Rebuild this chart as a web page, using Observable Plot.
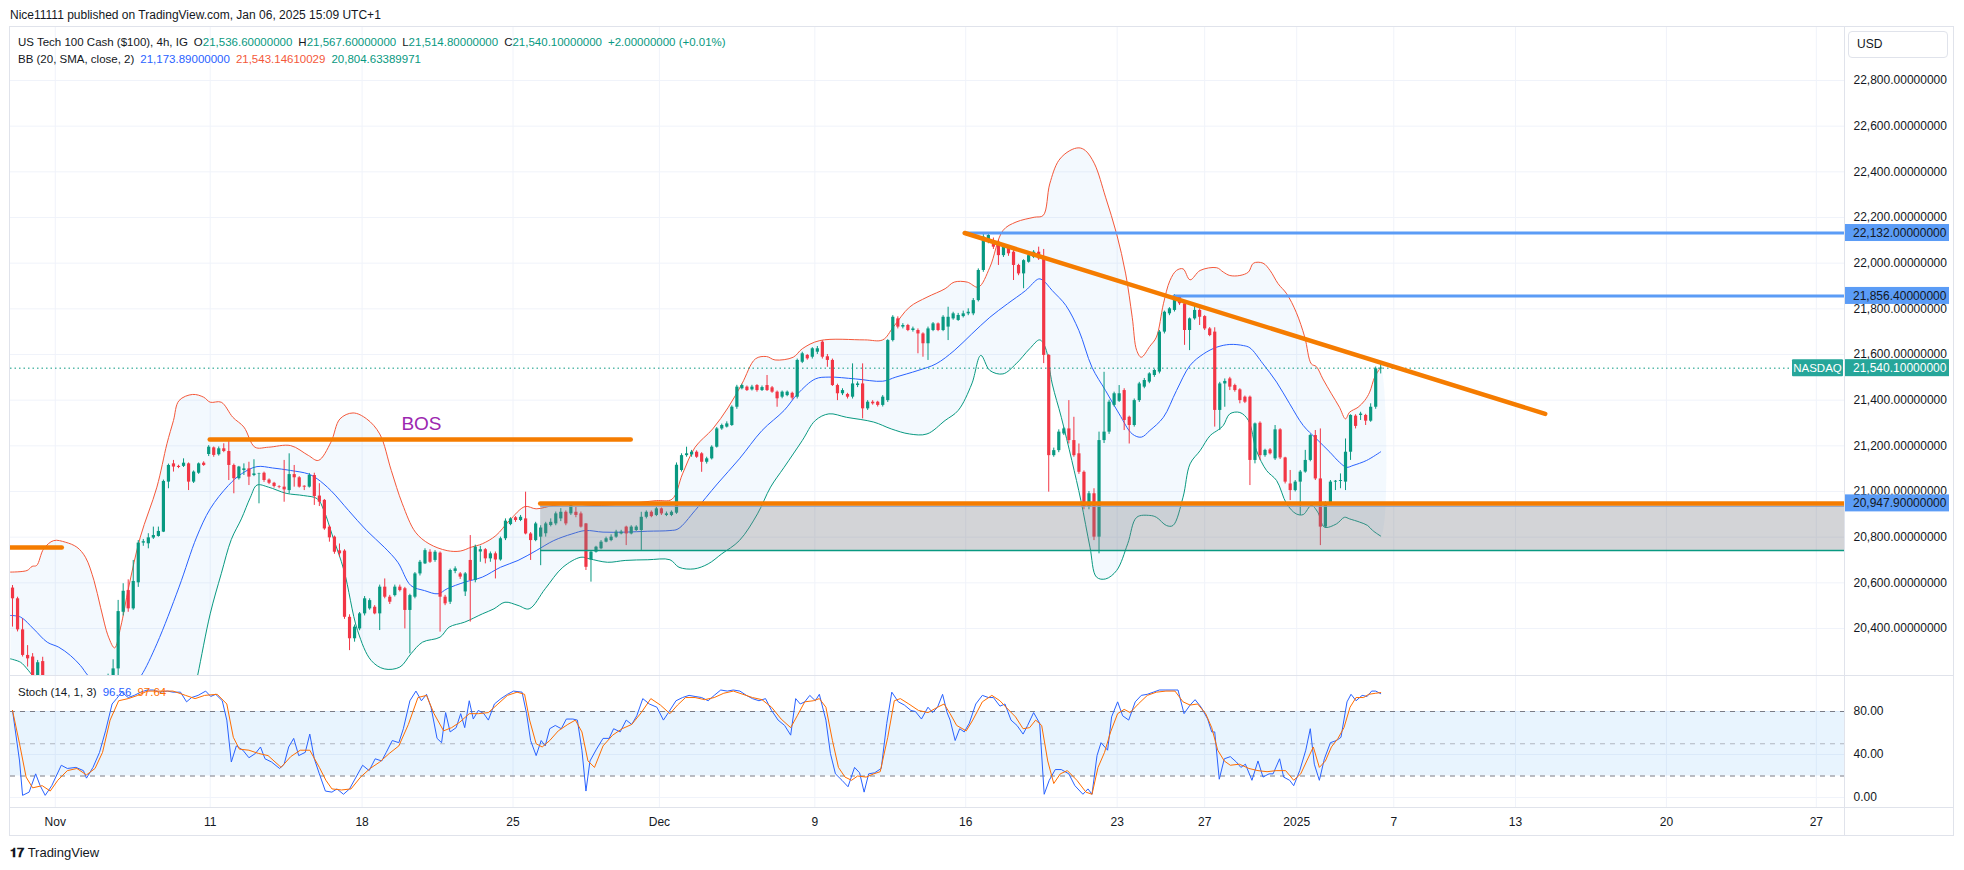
<!DOCTYPE html>
<html><head><meta charset="utf-8">
<script src="https://cdn.jsdelivr.net/npm/d3@7"></script>
<script src="https://cdn.jsdelivr.net/npm/@observablehq/plot@0.6"></script>
<style>
body{margin:0;background:#fff;font-family:"Liberation Sans",Arial,sans-serif;color:#131722;}
#root{position:relative;width:1964px;height:870px;overflow:hidden;background:#fff;}
.abs{position:absolute;white-space:nowrap;font-size:12px;line-height:14px;}
.abs span.gap{margin-left:6px;}
#root svg{position:absolute;left:0;}
</style></head><body><div id="root"></div>
<script>
// ---------- DATA ----------
const opens = [20577,20530,20394,20282,20275,20150,20255,20170,20110,20140,20120,20080,20110,20150,20120,20040,20070,20100,20130,20150,
20190,20223,20471,20566,20486,20600,20774,20771,20796,20803,20822,21041,21121,21110,21110,21121,21041,21080,21124,21162,
21191,21161,21187,21175,21114,21056,21092,21099,21070,21075,21080,21050,21036,21022,21019,21004,21074,21060,21023,21019,
21070,20980,20961,20844,20800,20740,20739,20449,20355,20398,20464,20486,20493,20464,20581,20537,20544,20581,20574,20479,
20537,20639,20683,20734,20698,20730,20537,20515,20650,20639,20560,20698,20610,20735,20745,20705,20727,20700,20793,20855,
20885,20873,20880,20814,20785,20800,20815,20851,20858,20880,20909,20902,20909,20902,20858,20700,20734,20749,20778,20785,
20800,20814,20844,20814,20829,20829,20887,20909,20895,20924,20895,20895,20905,21092,21157,21160,21172,21165,21128,21143,
21194,21274,21282,21289,21369,21450,21457,21445,21464,21442,21464,21454,21435,21413,21420,21430,21413,21566,21596,21588,
21610,21654,21590,21574,21464,21428,21425,21413,21464,21471,21362,21391,21391,21377,21398,21661,21756,21720,21727,21705,
21705,21690,21647,21705,21734,21705,21720,21756,21749,21766,21778,21778,21836,21968,22099,22099,22092,22033,22070,22048,
21990,21953,22004,22026,22048,22026,21596,21157,21179,21252,21274,21223,21165,21084,20931,20990,20800,21223,21260,21377,
21395,21442,21325,21289,21398,21457,21479,21508,21523,21698,21778,21793,21851,21822,21705,21756,21793,21766,21712,21698,
21355,21471,21493,21464,21445,21413,21413,21136,21299,21157,21182,21143,21270,21147,21033,21004,21041,21085,21136,21245,
21055,20844,20946,21041,21044,21041,21172,21330,21333,21333,21308,21369,21536.6];
const highs = [20588,20537,20442,20325,20290,20260,20274,20185,20160,20170,20150,20130,20160,20175,20140,20090,20120,20150,20170,20200,
20263,20523,20596,20613,20698,20785,20790,20815,20844,20844,21050,21120,21136,21115,21143,21125,21090,21125,21130,21201,
21195,21195,21209,21226,21120,21110,21121,21128,21139,21080,21085,21055,21040,21025,21136,21165,21114,21065,21025,21079,
21080,21034,20965,20850,20805,20770,20745,20460,20415,20470,20540,20530,20500,20590,20617,20545,20590,20590,20580,20550,
20645,20698,20749,20745,20741,20735,20545,20660,20670,20645,20645,20807,20765,20760,20750,20735,20735,20800,20880,20885,
20890,20895,20997,20820,20865,20850,20865,20880,20910,20925,20915,20950,20930,20910,20860,20740,20760,20785,20800,20810,
20830,20830,20848,20850,20850,20909,20915,20915,20930,20928,20910,20915,21125,21165,21194,21180,21178,21170,21150,21200,
21280,21295,21305,21375,21465,21470,21462,21465,21468,21462,21508,21460,21440,21440,21440,21435,21580,21610,21600,21630,
21635,21660,21600,21580,21470,21450,21430,21559,21480,21559,21398,21398,21395,21420,21665,21770,21765,21735,21732,21720,
21712,21695,21720,21740,21738,21770,21807,21785,21780,21790,21800,21845,21975,22132,22132,22110,22100,22080,22075,22055,
21995,22015,22040,22055,22070,22060,21600,21190,21270,21280,21398,21325,21208,21090,21000,21012,21260,21522,21400,21435,
21464,21450,21330,21405,21478,21495,21520,21535,21705,21790,21805,21862,21858,21825,21760,21822,21800,21770,21718,21717,
21478,21493,21500,21470,21450,21418,21418,21300,21305,21185,21188,21289,21275,21150,21092,21048,21092,21180,21250,21267,
21274,20955,21048,21048,21077,21230,21336,21336,21347,21338,21384,21545,21567.6];
const lows = [20406,20385,20275,20231,20120,20130,20140,20090,20080,20100,20060,20050,20090,20100,20020,20010,20050,20080,20110,20140,
20180,20190,20455,20471,20480,20580,20760,20749,20790,20800,20820,21012,21085,21100,21105,21004,21035,21075,21110,21153,
21150,21155,21170,21048,20990,21050,21070,21026,21065,20946,21040,21030,21015,21012,20953,20990,21019,21015,21004,21015,
20939,20934,20830,20778,20725,20712,20440,20303,20340,20390,20455,20480,20460,20391,20530,20505,20538,20560,20398,20289,
20530,20630,20680,20685,20690,20384,20500,20505,20640,20615,20540,20428,20600,20690,20683,20690,20617,20695,20785,20850,
20865,20868,20810,20698,20780,20675,20800,20845,20850,20868,20850,20895,20885,20840,20654,20603,20730,20745,20775,20780,
20795,20810,20763,20810,20825,20742,20880,20885,20890,20895,20890,20890,20900,21085,21150,21150,21145,21084,21120,21138,
21190,21268,21278,21285,21360,21445,21438,21440,21435,21438,21438,21430,21369,21406,21415,21400,21405,21560,21575,21580,
21600,21580,21544,21460,21398,21420,21405,21405,21455,21318,21355,21378,21370,21370,21390,21655,21712,21712,21700,21698,
21603,21588,21574,21700,21700,21700,21661,21750,21745,21760,21770,21770,21830,21960,22085,22060,21990,22025,22030,21924,
21945,21888,22000,22020,22012,21560,20997,21150,21170,21245,21208,21150,21075,20920,20920,20785,20727,21210,21250,21370,
21390,21267,21208,21282,21390,21450,21472,21500,21515,21690,21770,21786,21815,21640,21617,21750,21727,21705,21678,21282,
21267,21369,21442,21435,21384,21385,21026,21121,21136,21150,21160,21136,21140,21033,20960,20998,20895,21080,21130,21048,
20763,20838,20940,21004,21012,21004,21136,21274,21311,21289,21303,21360,21514.8];
const closes = [20530,20394,20282,20267,20150,20250,20170,20110,20140,20120,20080,20110,20150,20120,20040,20070,20100,20130,20150,20190,
20223,20474,20563,20486,20606,20774,20780,20797,20807,20825,21044,21114,21107,21105,21124,21041,21085,21121,21114,21194,
21158,21187,21175,21114,21056,21107,21099,21063,21077,21077,21048,21036,21022,21019,21007,21074,21060,21019,21019,21070,
20978,20953,20836,20797,20734,20727,20449,20355,20406,20464,20530,20522,20464,20581,20537,20515,20581,20566,20479,20544,
20639,20690,20741,20690,20734,20537,20508,20654,20661,20625,20639,20610,20756,20745,20705,20727,20700,20793,20870,20880,
20873,20887,20814,20785,20858,20840,20858,20865,20902,20909,20858,20939,20895,20844,20668,20734,20756,20778,20793,20800,
20822,20822,20814,20844,20844,20887,20909,20890,20924,20902,20902,20909,21115,21157,21165,21172,21150,21128,21143,21194,
21274,21289,21296,21369,21457,21464,21442,21457,21442,21455,21442,21435,21406,21435,21435,21409,21574,21603,21581,21625,
21625,21588,21574,21464,21428,21442,21413,21471,21471,21362,21391,21384,21377,21413,21661,21763,21720,21727,21705,21712,
21690,21647,21712,21734,21705,21763,21763,21778,21771,21778,21785,21836,21968,22114,22121,22070,22033,22070,22041,21990,
21953,22011,22033,22048,22019,21596,21157,21179,21260,21274,21223,21157,21084,20931,20990,20800,21223,21260,21391,21428,
21428,21311,21289,21398,21471,21486,21515,21530,21698,21785,21800,21858,21822,21705,21756,21793,21763,21712,21683,21355,
21471,21482,21457,21442,21398,21391,21136,21296,21157,21180,21165,21270,21147,21041,21004,21041,21085,21136,21245,21055,
20844,20946,21041,21045,21048,21172,21333,21285,21339,21308,21369,21537,21540.1];

// Bollinger Bands (20, SMA, close, 2): [bar, price]
const bbUpper = [[-0.4,20647],[2.9,20654],[3.9,20672],[4.8,20676],[6.2,20749],[8.2,20785],[10.5,20778],[12.8,20756],[14.5,20712],[16.2,20610],[17.5,20493],[19.1,20362],[20.3,20315],[21.5,20406],[23.1,20581],[25.4,20800],[28.7,21019],[30.7,21209],[32,21311],[33.1,21398],[35.8,21425],[38,21413],[39.3,21391],[41.5,21391],[43.8,21325],[46,21282],[48.2,21194],[50.9,21194],[55.3,21201],[58.8,21158],[60.8,21136],[63.3,21216],[65.1,21318],[67.7,21344],[70.4,21318],[73,21252],[75.3,21092],[77.5,20946],[80.1,20822],[82.8,20771],[86.4,20741],[89,20739],[91.2,20756],[93.4,20771],[96.1,20807],[98.8,20873],[101.9,20934],[104.1,20924],[107.6,20939],[111.2,20946],[115.6,20939],[121.8,20946],[128,20960],[131.1,20966],[133.2,21077],[135.7,21194],[139.2,21274],[142.3,21369],[145,21471],[147.7,21581],[149.9,21591],[151.6,21576],[155.2,21588],[157,21625],[160.5,21661],[169.4,21664],[173,21664],[175.1,21720],[178.3,21807],[181.8,21851],[185.4,21888],[187.2,21917],[189.8,21917],[192,21895],[194.3,21982],[196.9,22143],[199.5,22180],[203.1,22201],[204.9,22209],[206.2,22347],[208,22450],[210.2,22493],[212,22505],[213.3,22493],[215.1,22435],[217.3,22289],[219.5,22128],[221.3,21953],[222.6,21763],[223.5,21617],[224.4,21588],[226.1,21636],[227.4,21676],[228.8,21822],[230.1,21924],[231.4,21968],[232.7,21975],[234.1,21927],[236.1,21968],[239.4,21980],[240.7,21961],[242,21946],[244,21946],[245.7,21961],[246.7,22000],[248.6,22000],[250,21968],[251.6,21910],[253.3,21866],[255.2,21785],[256.9,21676],[258.2,21559],[259.2,21547],[260.5,21493],[262.2,21428],[263.8,21369],[265,21318],[265.8,21347],[267.5,21369],[268.8,21398],[269.8,21435],[270.8,21501],[272,21543.1]];
const bbBasis = [[-0.4,20457],[1.6,20450],[4.2,20398],[6.9,20340],[9.2,20318],[11.5,20282],[13.5,20238],[15,20194],[18,20130],[21,20110],[24,20150],[25.6,20194],[28.7,20333],[33.1,20581],[36.6,20800],[39.3,20924],[42.9,21026],[45.5,21077],[48.6,21109],[51.7,21103],[55.3,21092],[58.8,21077],[60.6,21055],[63.3,21004],[66.8,20917],[70.4,20829],[73.9,20756],[76.6,20690],[79.2,20588],[81.9,20566],[84.6,20552],[86.4,20574],[89.9,20603],[93.4,20625],[97,20668],[100.5,20698],[104.1,20741],[107.6,20785],[111.2,20814],[113.9,20829],[117.4,20822],[121.8,20822],[126.3,20826],[130.7,20829],[132.3,20836],[135.7,20917],[140.1,21033],[144.5,21143],[149,21267],[153.4,21355],[156.1,21428],[159.6,21493],[162.3,21501],[167.6,21493],[173,21483],[175.6,21501],[180,21530],[183.6,21559],[187.2,21617],[190.7,21690],[194.3,21763],[197.8,21822],[201.4,21880],[204,21931],[204.9,21924],[206.7,21880],[209.4,21815],[212,21705],[214.6,21544],[217.3,21442],[220,21340],[222.6,21252],[224.4,21238],[226.1,21267],[228.8,21325],[231.4,21442],[234.1,21552],[236.8,21603],[239.4,21632],[242,21644],[244.7,21639],[246,21629],[248.6,21559],[251.3,21479],[253.9,21384],[256.6,21289],[259.2,21231],[261.9,21172],[263.8,21128],[265.2,21106],[266.5,21114],[269.2,21136],[272,21173.9]];
const bbLower = [[-0.4,20267],[1.6,20252],[2.9,20223],[4.2,20187],[8,20080],[14,19960],[20,19880],[28,19850],[33,19900],[35.5,20060],[36.8,20194],[39.3,20464],[41.5,20640],[43.5,20790],[45.5,20880],[47.3,20975],[48.6,21028],[50.9,21019],[54.4,20992],[57.9,20982],[60.6,20968],[61.9,20917],[63.7,20800],[65.9,20654],[68.6,20391],[71.3,20260],[73.9,20223],[77,20231],[79.2,20289],[81.5,20340],[85,20362],[86.8,20406],[89.9,20428],[93.4,20464],[95.7,20486],[97.9,20515],[100.5,20501],[102.7,20486],[105.9,20574],[109.4,20668],[113,20712],[114.7,20705],[118.3,20690],[121.8,20698],[126.3,20701],[130.7,20701],[132.5,20668],[135.5,20661],[138.3,20683],[141,20727],[144.5,20785],[148.1,20902],[150.7,21019],[153.4,21106],[157,21223],[159.6,21311],[162.3,21340],[165.8,21325],[171.2,21304],[174.7,21274],[178.3,21252],[181.8,21252],[185.4,21311],[188,21355],[190.7,21471],[192.5,21596],[194.3,21530],[196.9,21515],[199.5,21559],[202.2,21625],[204.2,21664],[205.3,21632],[206.7,21471],[208.5,21325],[210.6,21135],[212.4,20960],[214.2,20756],[215.5,20625],[217.3,20617],[219.5,20654],[221.7,20771],[223.5,20887],[226.1,20895],[227.4,20887],[229.4,20851],[230.7,20851],[232.7,20975],[234.1,21121],[236.1,21179],[238.1,21245],[239.7,21270],[240.7,21289],[242,21340],[244,21346],[245.7,21311],[247.3,21179],[249.3,21092],[251.3,21048],[253.3,20946],[255.2,20902],[256.6,20899],[258.2,20939],[259.5,20909],[260.8,20844],[263.2,20858],[264.8,20887],[265.8,20880],[267.8,20866],[269.4,20851],[270.4,20829],[272,20804.6]];

// Stochastic (14, 1, 3): [bar, value]
const stochK = [[0,81],[1.4,34],[2,2],[3.3,5],[4.6,22],[5.5,11],[6.5,2],[7.8,11],[9.7,30],[10.9,27],[12.6,28],[14.1,25],[14.7,18],[16,28],[17.3,42],[18.5,62],[19.8,87],[20.7,92],[21.7,98],[23,93],[24.2,95],[25.5,98],[26.8,100],[28,100],[29.3,98],[30.8,99],[31.9,98],[33.4,98],[34.6,89],[35.6,93],[36.9,95],[38.4,99],[39.4,94],[40.4,96],[41.7,90],[42.6,72],[43.5,33],[44.5,48],[45.8,44],[47,37],[48.3,41],[49.3,47],[50.2,36],[51.5,33],[53.1,27],[54,31],[54.9,47],[55.9,55],[56.9,39],[58.2,42],[59.1,59],[60,36],[61,22],[62.2,6],[63.5,5],[64.5,8],[65.8,3],[67,8],[68.3,19],[69.6,30],[70.9,25],[72.1,36],[73.4,34],[74.3,42],[75.5,53],[76.8,51],[77.7,64],[79,90],[80.2,99],[81.3,90],[82.3,96],[83.2,84],[84.4,55],[85.3,51],[86.1,79],[87,61],[88.2,65],[89.1,78],[89.9,65],[90.8,90],[91.6,73],[92.6,81],[93.7,78],[94.6,72],[95.8,87],[97.1,92],[98.4,96],[99.6,99],[101.3,98],[102.2,78],[103,53],[104.1,39],[105.1,53],[105.9,48],[106.8,64],[107.9,67],[109.1,64],[110.1,73],[111.4,73],[112.3,72],[113.2,44],[114,6],[114.8,34],[116.1,45],[117.4,55],[118.6,55],[119.5,64],[120.8,61],[122,72],[123.1,68],[124.1,76],[125.3,92],[126.6,87],[128.1,84],[129.4,72],[130.4,79],[131.9,90],[133.2,93],[134.5,95],[135.7,94],[137,93],[138.3,90],[139.5,95],[140.8,100],[142.1,99],[143.3,100],[144.6,99],[145.9,95],[147.1,92],[148.4,90],[149.7,92],[150.9,81],[152.2,72],[153.5,67],[154.7,58],[155.7,92],[156.6,87],[157.5,89],[158.5,95],[159.6,90],[160.4,96],[161.7,72],[162.6,41],[163.6,22],[164.9,16],[166.1,10],[167.4,28],[168.4,23],[169.3,5],[170.2,22],[171.4,23],[172.7,27],[173.8,69],[174.8,98],[176.1,89],[177.3,86],[178.6,81],[179.5,80],[180.7,73],[182,84],[182.9,79],[183.9,84],[184.9,96],[185.8,79],[186.4,72],[187.4,53],[188.3,64],[189.2,61],[190.2,69],[191.5,87],[192.8,95],[194,93],[195,93],[196.3,85],[197.3,87],[198.5,72],[199.7,67],[200.9,59],[201.8,67],[203,79],[204.2,69],[205.1,3],[206.1,16],[207.3,26],[208.5,26],[210,22],[211.2,11],[212.8,3],[213.8,8],[214.6,3],[215.6,39],[216.4,51],[217.7,44],[218.5,75],[219.7,89],[220.7,76],[221.9,72],[223.2,89],[224.4,95],[225.6,96],[226.8,98],[228,100],[229.3,100],[230.5,100],[231.7,100],[232.9,78],[234.1,86],[235.1,91],[236.3,84],[237.6,73],[238.4,61],[239,61],[239.9,17],[240.9,36],[242.1,38],[243.3,33],[244.2,28],[245.1,31],[246.4,16],[247.6,34],[248.6,19],[249.8,22],[250.6,22],[251.9,36],[252.7,19],[253.9,16],[254.7,11],[255.9,25],[257.1,44],[258,64],[258.8,31],[259.8,16],[260.8,36],[262,51],[263.2,53],[264.1,56],[265.3,89],[266.1,96],[267.1,90],[268.3,95],[269.3,94],[270.2,99],[271,99],[272,96.56]];
const stochD = [[0,81],[1.4,50],[2.7,19],[4,9],[5.9,11],[7.5,6],[9,16],[10.9,25],[12.8,27],[14.7,21],[16.4,27],[17.9,42],[19.4,72],[21.1,90],[23,92],[24.9,95],[26.8,99],[29.3,99],[31.9,99],[34.4,95],[36.3,92],[38.2,95],[40.7,96],[42.6,87],[43.9,56],[45.1,45],[47,44],[48.9,41],[50.8,39],[53.4,28],[55.3,38],[57.2,44],[59.1,44],[61,28],[62.3,16],[63.5,8],[65.4,7],[67.3,8],[69.2,19],[71.1,27],[73,33],[74.9,41],[76.8,48],[78.7,68],[80.6,93],[82.3,95],[83.8,78],[85.7,62],[87.3,65],[88.9,70],[90.8,78],[92.6,78],[94.6,79],[96.5,87],[98.4,95],[100.3,98],[101.8,96],[102.8,72],[104.1,50],[105.3,47],[106.8,53],[108.5,62],[110.4,68],[111.9,72],[113.2,61],[114.4,34],[115.7,28],[117.4,48],[119.3,58],[121.2,64],[123.1,68],[125,79],[126.9,92],[128.8,86],[130.7,78],[132.2,86],[133.8,93],[135.7,93],[137.6,91],[139.5,93],[141.4,97],[143.3,99],[145.2,96],[147.1,93],[149,91],[150.9,84],[152.8,73],[154.7,65],[156,76],[157.5,89],[159.2,90],[160.4,92],[161.7,84],[163,53],[164.2,28],[165.5,19],[166.8,16],[168,20],[169.7,19],[171.2,22],[172.5,24],[174,56],[175.3,90],[176.5,92],[178.2,87],[180.1,81],[182,79],[183.9,84],[185.2,87],[186.4,78],[187.7,67],[189.6,62],[190.9,72],[192.8,89],[194.7,95],[196.3,90],[197.5,84],[199.4,75],[200.9,64],[202.2,65],[203.4,72],[204.6,67],[205.8,34],[207,13],[208.3,22],[209.7,25],[211.6,16],[213.4,5],[214.6,3],[215.8,28],[217.1,42],[218.3,61],[219.7,78],[221,82],[222.2,79],[223.8,87],[225.6,95],[227.4,98],[229.3,99],[231.1,99],[232.7,89],[234.1,86],[235.6,87],[237.2,78],[238.4,65],[239.6,44],[240.9,34],[242.1,30],[243.9,31],[245.8,27],[247.6,25],[249.4,24],[251.2,25],[253.1,25],[254.7,16],[256.1,22],[257.3,34],[258.6,47],[259.8,28],[261,34],[262.2,47],[263.5,55],[264.7,65],[265.9,84],[267.1,93],[268.6,93],[269.6,96],[271,97],[272,97.64]];

// axis ticks
const priceTicks = [20400,20600,20800,21000,21200,21400,21600,21800,22000,22200,22400,22600,22800];
const stochTicks = [0,40,80];
const stochLevels = [80,50,20];
const timeTickPos = [8.5,39.3,69.5,99.5,128.6,159.5,189.5,219.6,237,255.3,274.6,298.8,328.8,358.6];
const timeTickLabels = ["Nov","11","18","25","Dec","9","16","23","27","2025","7","13","20","27"];

// drawings
const orangeLevels = [20755, 21228, 20947.9];
const orangeFrom = [-0.4, 39.3, 105];
const orangeTo = [9.9, 123, 364.2];
const blueLevels = [22132, 21856.4];
const blueFrom = [189.3, 231];
const trendX = [189.3, 304.7];
const trendY = [22132, 21340];
const zoneBounds = [20742, 20947.9];
const zoneStart = 105;
const bosLabel = ["BOS"];
const bosPos = [81.3, 21298];
const lastPrice = 21540.1;
const markerPrices = [22132, 21856.4, 20947.9];

// ---------- CHART ----------
const FONT = "Liberation Sans, Arial, sans-serif";
const xDomain = [-0.4, 364.2];
const UP = "#089981", DOWN = "#f23645";
const candles = closes.map((c, i) => ({i, o: opens[i], h: highs[i], l: lows[i], c}));
const ups = candles.filter(d => d.c >= d.o);
const downs = candles.filter(d => d.c < d.o);
const xy = {x: d => d[0], y: d => d[1]};
const bbPoly = bbUpper.concat(bbLower.slice().reverse());
const orangeSegs = orangeLevels.map((y, k) => ({y, x1: orangeFrom[k], x2: orangeTo[k]}));
const blueSegs = blueLevels.map((y, k) => ({y, x1: blueFrom[k], x2: xDomain[1]}));
const trend = trendX.map((x, k) => [x, trendY[k]]);
const fmtPrice = d3.format(",.8f");
const tickLabelMap = new Map(timeTickPos.map((t, k) => [t, timeTickLabels[k]]));
const style = {fontFamily: FONT, fontSize: "12px", color: "#131722", background: "transparent", overflow: "visible"};

const main = Plot.plot({
  width: 1964, height: 648, marginLeft: 10, marginRight: 120, marginTop: 0, marginBottom: 0,
  style,
  x: {type: "linear", domain: xDomain, axis: null},
  y: {type: "linear", domain: [20194.1, 23032.1]},
  marks: [
    Plot.ruleY(priceTicks, {stroke: "#f0f3fa"}),
    Plot.ruleX(timeTickPos, {stroke: "#f0f3fa"}),
    Plot.line(bbPoly, {...xy, curve: "catmull-rom", fill: "#2196f3", fillOpacity: 0.055, stroke: "none", clip: true}),
    Plot.line(bbUpper, {...xy, curve: "catmull-rom", stroke: "#f4583a", strokeWidth: 1, clip: true}),
    Plot.line(bbBasis, {...xy, curve: "catmull-rom", stroke: "#2962ff", strokeWidth: 1, clip: true}),
    Plot.line(bbLower, {...xy, curve: "catmull-rom", stroke: "#089981", strokeWidth: 1, clip: true}),
    Plot.ruleX(ups, {x: "i", y1: "l", y2: "h", stroke: UP, strokeWidth: 1, clip: true}),
    Plot.ruleX(downs, {x: "i", y1: "l", y2: "h", stroke: DOWN, strokeWidth: 1, clip: true}),
    Plot.ruleX(ups, {x: "i", y1: "o", y2: "c", stroke: UP, strokeWidth: 3.2, clip: true}),
    Plot.ruleX(downs, {x: "i", y1: "o", y2: "c", stroke: DOWN, strokeWidth: 3.2, clip: true}),
    Plot.rect([zoneBounds], {x1: zoneStart, x2: xDomain[1], y1: d => d[0], y2: d => d[1], fill: "#787b86", fillOpacity: 0.33}),
    Plot.ruleY([zoneBounds[0]], {x1: zoneStart, x2: xDomain[1], stroke: "#089981", strokeWidth: 1.5}),
    Plot.ruleY([zoneBounds[1]], {x1: zoneStart, x2: xDomain[1], stroke: "#8fa3c4", strokeWidth: 1, dy: 3}),
    Plot.ruleY([lastPrice], {stroke: "#089981", strokeDasharray: "1.5,3", strokeWidth: 1}),
    Plot.ruleY(orangeSegs, {y: "y", x1: "x1", x2: "x2", stroke: "#f57c00", strokeWidth: 4.5, strokeLinecap: "round", clip: true}),
    Plot.ruleY(blueSegs, {y: "y", x1: "x1", x2: "x2", stroke: "#5b9cf6", strokeWidth: 3, strokeLinecap: "round", clip: true}),
    Plot.line(trend, {...xy, stroke: "#f57c00", strokeWidth: 4.5, strokeLinecap: "round"}),
    Plot.text(bosLabel, {x: bosPos[0], y: bosPos[1], text: d => d, fill: "#9c27b0", fontSize: 19}),
    Plot.axisY(priceTicks, {anchor: "right", tickSize: 0, tickPadding: 9, tickFormat: fmtPrice, label: null, fontSize: 12})
  ]
});

const stoch = Plot.plot({
  width: 1964, height: 160, marginLeft: 10, marginRight: 120, marginTop: 0, marginBottom: 28,
  style,
  x: {type: "linear", domain: xDomain},
  y: {type: "linear", domain: [-9.3, 113.5]},
  marks: [
    Plot.ruleY(stochTicks, {stroke: "#f0f3fa"}),
    Plot.ruleX(timeTickPos, {stroke: "#f0f3fa"}),
    Plot.rect([stochLevels], {x1: xDomain[0], x2: xDomain[1], y1: d => d[2], y2: d => d[0], fill: "#2196f3", fillOpacity: 0.1}),
    Plot.ruleY([stochLevels[0], stochLevels[2]], {stroke: "#787b86", strokeDasharray: "5,5"}),
    Plot.ruleY([stochLevels[1]], {stroke: "#787b86", strokeOpacity: 0.5, strokeDasharray: "5,5"}),
    Plot.line(stochK, {...xy, stroke: "#2962ff", strokeWidth: 1}),
    Plot.line(stochD, {...xy, stroke: "#ff6d00", strokeWidth: 1}),
    Plot.axisY(stochTicks, {anchor: "right", tickSize: 0, tickPadding: 9, tickFormat: d => d.toFixed(2), label: null, fontSize: 12}),
    Plot.axisX(timeTickPos, {anchor: "bottom", tickSize: 0, tickPadding: 10, tickFormat: d => tickLabelMap.get(d), label: null, fontSize: 12})
  ]
});

const root = document.getElementById("root");
main.style.top = "27px";
stoch.style.top = "675px";
root.appendChild(main);
root.appendChild(stoch);

// price label boxes on the axis, positioned through the y scale
const ys = main.scale("y");
const svg = d3.select(main);
const g = svg.append("g").attr("font-family", FONT).attr("font-size", 12).attr("text-anchor", "start");
markerPrices.forEach(v => {
  const y = ys.apply(v);
  g.append("rect").attr("x", 1845).attr("y", y - 8.5).attr("width", 104).attr("height", 17).attr("fill", "#5b9cf6");
  g.append("text").attr("x", 1853).attr("y", y).attr("dy", "0.35em").attr("text-anchor", "start").attr("fill", "#131722").text(fmtPrice(v));
});
{
  const y = ys.apply(lastPrice);
  g.append("rect").attr("x", 1845).attr("y", y - 8.5).attr("width", 104).attr("height", 17).attr("fill", "#26a69a");
  g.append("text").attr("x", 1853).attr("y", y).attr("dy", "0.35em").attr("text-anchor", "start").attr("fill", "#fff").text(fmtPrice(lastPrice));
  g.append("rect").attr("x", 1792).attr("y", y - 8.5).attr("width", 51).attr("height", 17).attr("rx", 1).attr("fill", "#26a69a");
  g.append("text").attr("x", 1817.5).attr("y", y).attr("dy", "0.35em").attr("text-anchor", "middle").attr("fill", "#fff").attr("font-size", 11.5).text("NASDAQ");
}

// frame & separators
function box(css) { const d = document.createElement("div"); d.className = "abs"; Object.assign(d.style, css); root.appendChild(d); return d; }
box({left: "9px", top: "26px", width: "1943px", height: "808px", border: "1px solid #e0e3eb"});
box({left: "10px", top: "675px", width: "1943px", height: "1px", background: "#e0e3eb"});
box({left: "10px", top: "807px", width: "1943px", height: "1px", background: "#e0e3eb"});
box({left: "1844px", top: "27px", width: "1px", height: "808px", background: "#e0e3eb"});
box({left: "1848px", top: "31px", width: "98px", height: "25px", border: "1px solid #e0e3eb", borderRadius: "4px", background: "#fff"});

// text rows: parts = [[text, colour, gapBefore]]
function txt(x, y, parts, size) {
  const d = box({left: x + "px", top: y + "px", fontSize: (size || 12) + "px"});
  parts.forEach(([t, c, gap]) => { const s = document.createElement("span"); s.textContent = t; if (c) s.style.color = c; if (gap) s.className = "gap"; d.appendChild(s); });
  return d;
}
txt(1857, 37, [["USD"]]);
txt(10, 8, [["Nice11111 published on TradingView.com, Jan 06, 2025 15:09 UTC+1"]]);
const TEAL = "#089981";
txt(18, 35, [["US Tech 100 Cash ($100), 4h, IG"],
  ["O", null, 1], ["21,536.60000000", TEAL],
  ["H", null, 1], ["21,567.60000000", TEAL],
  ["L", null, 1], ["21,514.80000000", TEAL],
  ["C", null, 1], ["21,540.10000000", TEAL],
  ["+2.00000000 (+0.01%)", TEAL, 1]], 11.5);
txt(18, 52, [["BB (20, SMA, close, 2)"], ["21,173.89000000", "#2962ff", 1], ["21,543.14610029", "#f4583a", 1], ["20,804.63389971", TEAL, 1]], 11.5);
txt(18, 685, [["Stoch (14, 1, 3)"], ["96.56", "#2962ff", 1], ["97.64", "#ff6d00", 1]], 11.5);
const logo = txt(10, 846, [["\u{1D7CF}\u{1D7D5} ", "#131722"], ["TradingView"]], 13);
logo.firstChild.style.fontWeight = "bold";
</script></body></html>
